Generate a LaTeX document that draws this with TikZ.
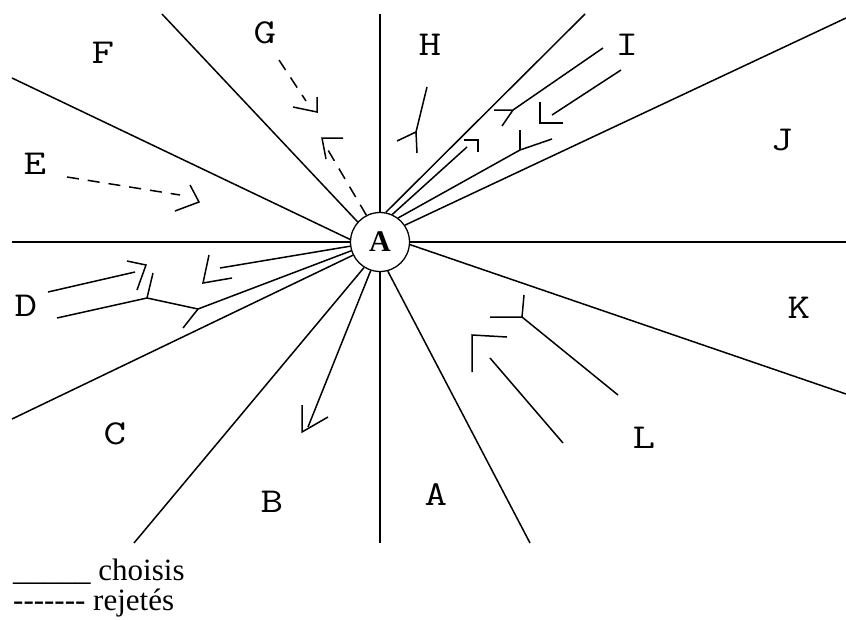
\documentclass[tikz,border=0pt]{standalone}
\usepackage{fontspec}
\usepackage{graphicx}
\setmainfont{Liberation Serif}
\usetikzlibrary{positioning}
\newcommand\tiretLeg{-\kern0pt}
\newcommand\lettreZone[1]{\scalebox{1.25}[1]{#1}}
\tikzset{
  choix/.style={line width=1.5pt},
  rejet/.style={line width=1.5pt, dash pattern=on 12pt off 9pt},
  axe/.style={line width=1.9pt}
}
\tikzset{
  zone/.style={font=\fontsize{35}{35}\selectfont\ttfamily, inner sep=0pt}
}
\tikzset{
  legende/.style={font=\fontsize{31}{31}\selectfont, inner sep=0pt, anchor=base west}
}

\begin{document}
\begin{tikzpicture}[x=1pt, y=-1pt]
      \useasboundingbox (0,0) rectangle (846,619);
      \node[draw, circle, line width=1.3pt, minimum size=59pt, inner sep=0pt, font=\fontsize{30}{30}\selectfont\bfseries] (a) at (380,242) {A};

      % lettres des zones
      \node[zone] (zA) at (436,495) {\lettreZone{A}};
      \node[zone] (zB) at (272,502) {\lettreZone{B}};
      \node[zone] (zC) at (115,434) {\lettreZone{C}};
      \node[zone] (zD) at (26,306) {\lettreZone{D}};
      \node[zone] (zE) at (35,164) {\lettreZone{E}};
      \node[zone] (zF) at (103,53) {\lettreZone{F}};
      \node[zone] (zG) at (265,33) {\lettreZone{G}};
      \node[zone] (zH) at (430,45) {\lettreZone{H}};
      \node[zone] (zI) at (627,45) {\lettreZone{I}};
      \node[zone] (zJ) at (782,140) {\lettreZone{J}};
      \node[zone] (zK) at (799,308) {\lettreZone{K}};
      \node[zone] (zL) at (644,438) {\lettreZone{L}};

      % limites des zones
      \coordinate (bordDE) at (12,242);
      \coordinate (bordJK) at (846,242);
      \coordinate (bordGH) at (380,14);
      \coordinate (bordAB) at (380,543);
      \coordinate (bordEF) at (12,78);
      \coordinate (bordFG) at (162,14);
      \coordinate (bordHI) at (585,14);
      \coordinate (bordIJ) at (846,18);
      \coordinate (bordKL) at (846,394);
      \coordinate (bordLA) at (530,543);
      \coordinate (bordBC) at (134,543);
      \coordinate (bordCD) at (12,419);
      \draw[axe] (bordDE) -- (a.180);
      \draw[axe] (a.0) -- (bordJK);
      \draw[axe] (bordGH) -- (a.90);
      \draw[axe] (a.270) -- (bordAB);
      \draw[choix] (bordEF) -- (a.175);
      \draw[choix] (bordFG) -- (a.138);
      \draw[choix] (a.79) -- (bordHI);
      \draw[choix] (a.34) -- (bordIJ);
      \draw[choix] (a.355) -- (bordKL);
      \draw[choix] (a.285) -- (bordLA);
      \draw[choix] (bordBC) -- (a.238);
      \draw[choix] (bordCD) -- (a.206);

      % A vers H
      \coordinate (hB) at (467,147);
      \coordinate (hP) at (478,140);
      \draw[choix] (a.66) -- (hB);
      \draw[choix] (hP) ++(-14,0) -- (hP) -- ++(0,12);
      % trait vers H
      \coordinate (hC) at (427,87);
      \coordinate (hT) at (416,132);
      \draw[choix] (hC) -- (hT);
      \draw[choix] (hT) ++(-19,9) -- (hT) -- ++(1,21);

      % A et I
      \coordinate (iM) at (520,150);
      \coordinate (iB) at (552,139);
      \draw[choix] (a.53) -- (iM) -- (iB);
      \draw[choix] (iM) -- ++(0,-20);
      % I vers A
      \coordinate (iA) at (621,70);
      \coordinate (iQ) at (552,115);
      \coordinate (iP) at (540,123);
      \draw[choix] (iA) -- (iQ);
      \draw[choix] (iP) ++(0,-21) -- (iP) -- ++(23,0);
      % trait vers I
      \coordinate (iC) at (603,48);
      \coordinate (iT) at (513,110);
      \draw[choix] (iC) -- (iT);
      \draw[choix] (iT) ++(-19,0) -- (iT) -- ++(-11,16);

      % G vers A, rejet
      \coordinate (gA) at (279,60);
      \coordinate (gQ) at (306,101);
      \coordinate (gP) at (317,112);
      \draw[rejet] (gA) -- (gQ);
      \draw[choix] (gP) ++(-24,-5) -- (gP) -- ++(0,-15);
      % A vers G, rejet
      \coordinate (gB) at (328,150);
      \coordinate (gR) at (322,138);
      \draw[rejet] (a.117) -- (gB);
      \draw[choix] (gR) ++(21,0) -- (gR) -- ++(4,21);

      % E vers A, rejet
      \coordinate (eA) at (67,177);
      \coordinate (eQ) at (180,195);
      \coordinate (eP) at (199,202);
      \draw[rejet] (eA) -- (eQ);
      \draw[choix] (eP) ++(-9,-17) -- (eP) -- ++(-24,9);

      % A vers D
      \coordinate (dB) at (220,268);
      \coordinate (dR) at (203,283);
      \draw[choix] (a.188) -- (dB);
      \draw[choix] (dR) ++(6,-28) -- (dR) -- ++(29,-5);
      % D vers A, deux traits
      \coordinate (dA) at (48,292);
      \coordinate (dQ) at (135,272);
      \coordinate (dP) at (146,265);
      \coordinate (dK) at (147,298);
      \draw[choix] (dA) -- (dQ);
      \draw[choix] (dP) ++(-19,-4) -- (dP) -- ++(-9,25);
      \draw[choix] (dK) ++(6,-25) -- (dK);
      \coordinate (dC) at (57,318);
      \coordinate (dT) at (198,309);
      \draw[choix] (dC) -- (dK) -- (dT) -- (a.197);
      \draw[choix] (dT) -- ++(-15,19);

      % A vers B
      \coordinate (bB) at (308,427);
      \coordinate (bR) at (302,432);
      \draw[choix] (a.252) -- (bB);
      \draw[choix] (bR) ++(0,-27) -- (bR) -- ++(26,-15);

      % trait vers L
      \coordinate (lC) at (618,395);
      \coordinate (lT) at (522,317);
      \draw[choix] (lC) -- (lT);
      \draw[choix] (lT) ++(-32,0) -- (lT) -- ++(2,-22);
      % L vers A
      \coordinate (lA) at (563,443);
      \coordinate (lQ) at (490,358);
      \coordinate (lP) at (472,335);
      \draw[choix] (lA) -- (lQ);
      \draw[choix] (lP) ++(0,37) -- (lP) -- ++(35,2);

      % legende
      \node[legende] (legChoix) at (13,580) {\_\_\_\_\_ choisis};
      \node[legende] (legRejet) at (13,610) {\tiretLeg\tiretLeg\tiretLeg\tiretLeg\tiretLeg\tiretLeg- rejetés};
\end{tikzpicture}
\end{document}
